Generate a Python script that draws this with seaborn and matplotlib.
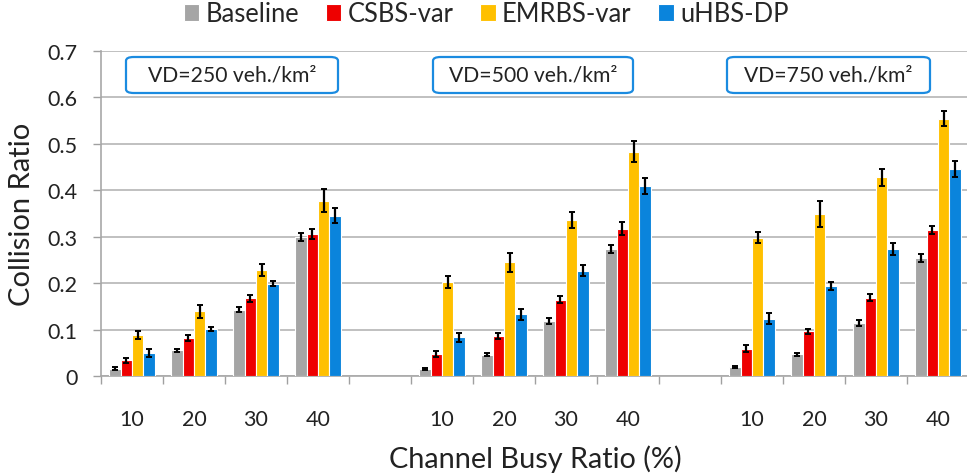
import numpy as np
import pandas as pd
import matplotlib
matplotlib.use("Agg")
import matplotlib.pyplot as plt
from matplotlib.patches import FancyBboxPatch
from matplotlib.ticker import FuncFormatter
import seaborn as sns

# ---------------- data ----------------
methods = ["Baseline", "CSBS-var", "EMRBS-var", "uHBS-DP"]
busy_ratios = ["10", "20", "30", "40"]
densities = ["250", "500", "750"]
density_labels = ["VD=250 veh./km²", "VD=500 veh./km²", "VD=750 veh./km²"]

baseline = [0.016, 0.055, 0.143, 0.299, 0.016, 0.046, 0.118, 0.274, 0.019, 0.047, 0.114, 0.254]
csbs = [0.034, 0.082, 0.167, 0.306, 0.048, 0.086, 0.164, 0.317, 0.059, 0.096, 0.169, 0.314]
emrbs = [0.089, 0.139, 0.229, 0.378, 0.202, 0.245, 0.336, 0.483, 0.298, 0.348, 0.428, 0.554]
uhbs = [0.050, 0.101, 0.199, 0.345, 0.083, 0.133, 0.227, 0.409, 0.123, 0.194, 0.273, 0.446]

baseline_err = [0.003, 0.0036, 0.0054, 0.008, 0.002, 0.003, 0.006, 0.009, 0.002, 0.003, 0.006, 0.008]
csbs_err = [0.005, 0.006, 0.008, 0.011, 0.006, 0.0065, 0.0075, 0.0137, 0.008, 0.006, 0.007, 0.009]
emrbs_err = [0.0086, 0.0137, 0.013, 0.025, 0.013, 0.020, 0.018, 0.023, 0.0126, 0.028, 0.018, 0.016]
uhbs_err = [0.008, 0.005, 0.006, 0.016, 0.010, 0.0115, 0.012, 0.017, 0.012, 0.009, 0.013, 0.017]

colors = ["#A5A5A5", "#EE0000", "#FFC000", "#0A84DC"]

# ---------------- build table ----------------
slots = []
for i, d in enumerate(densities):
    for b in busy_ratios:
        slots.append(f"{d}|{b}")
    if i < len(densities) - 1:
        slots.append(f"gap{i}")
slot_ticklabels = [s.split("|")[1] if "|" in s else "" for s in slots]

data_slots = [f"{d}|{b}" for d in densities for b in busy_ratios]
series = {"Baseline": (baseline, baseline_err), "CSBS-var": (csbs, csbs_err),
          "EMRBS-var": (emrbs, emrbs_err), "uHBS-DP": (uhbs, uhbs_err)}
rows = []
for m in methods:
    vals, errs = series[m]
    for s, v, e in zip(data_slots, vals, errs):
        rows.append({"slot": s, "method": m, "value": v, "err": e})
df = pd.DataFrame(rows)
err_lookup = {(r.method, r.slot): r.err for r in df.itertuples()}

# ---------------- plot ----------------
sns.set_theme(style="white")
plt.rcParams["font.family"] = ["Lato", "DejaVu Sans"]

fig = plt.figure(figsize=(9.67, 4.77), dpi=100)
ax = fig.add_axes([101 / 967, 1 - 377 / 477, 868 / 967, 325 / 477])

sns.barplot(data=df, x="slot", y="value", hue="method", order=slots,
            hue_order=methods, palette=colors, saturation=1, width=0.74, errorbar=None,
            edgecolor="white", linewidth=0.8, ax=ax, zorder=3)

# error bars from the drawn bars
for m, cont in zip(methods, ax.containers):
    for p in cont.patches:
        xc = p.get_x() + p.get_width() / 2
        idx = int(round(xc))
        s = slots[idx]
        ax.errorbar(xc, p.get_height(), yerr=err_lookup[(m, s)], fmt="none",
                    ecolor="black", elinewidth=1.6, capsize=2.3, capthick=1.4, zorder=4)

ax.set_xlim(-0.5, len(slots) - 0.5)
ax.set_ylim(0, 0.7)
ax.set_yticks(np.arange(0, 0.71, 0.1))
ax.yaxis.set_major_formatter(FuncFormatter(lambda v, p: "0" if abs(v) < 1e-9 else f"{v:.1f}"))

# x ticks: marks at boundaries, labels at centers
ax.set_xticks(np.arange(-0.5, len(slots), 1.0))
ax.set_xticklabels([])
ax.set_xticks(np.arange(len(slots)), minor=True)
ax.set_xticklabels(slot_ticklabels, minor=True)
ax.tick_params(axis="x", which="major", length=6, width=1, color="#A0A0A0", direction="out", bottom=True)
ax.tick_params(axis="x", which="minor", length=0, pad=24, labelsize=15.5, labelcolor="#222222")
ax.tick_params(axis="y", length=6, width=1, color="#A0A0A0", direction="out", left=True,
               pad=11, labelsize=15.5, labelcolor="#222222")

ax.grid(axis="y", color="#B5B5B5", linewidth=1.2, zorder=0)
ax.set_axisbelow(True)
for side in ["top", "right"]:
    ax.spines[side].set_visible(False)
for side in ["left", "bottom"]:
    ax.spines[side].set_color("#A8A8A8")
    ax.spines[side].set_linewidth(1.2)

ax.set_xlabel("Channel Busy Ratio (%)", fontsize=20.8, color="#222222", labelpad=11)
ax.set_ylabel("Collision Ratio", fontsize=21, color="#222222", labelpad=9)

# legend
ax.get_legend().remove()
handles, labels = ax.get_legend_handles_labels()
fig.legend(handles, labels, loc="center", bbox_to_anchor=(486 / 967, 1 - 15 / 477), ncol=4,
           frameon=False, fontsize=18.4, handlelength=0.6, handleheight=0.6,
           handletextpad=0.25, columnspacing=1.05, borderaxespad=0)

# density boxes
boxes = [(126, 338), (433, 633), (727, 930)]
for (x0, x1), lab in zip(boxes, density_labels):
    y0, y1 = 58, 94
    patch = FancyBboxPatch((x0 / 967, 1 - y1 / 477), (x1 - x0) / 967, (y1 - y0) / 477,
                           boxstyle="round,pad=0,rounding_size=0.008",
                           transform=fig.transFigure, facecolor="white",
                           edgecolor="#1B8BE0", linewidth=1.6, zorder=5)
    fig.patches.append(patch)
    fig.text((x0 + x1) / 2 / 967, 1 - (y0 + y1) / 2 / 477, lab, ha="center", va="center",
             fontsize=15.2, color="#222222", zorder=6)

fig.savefig("out.png", dpi=100)
